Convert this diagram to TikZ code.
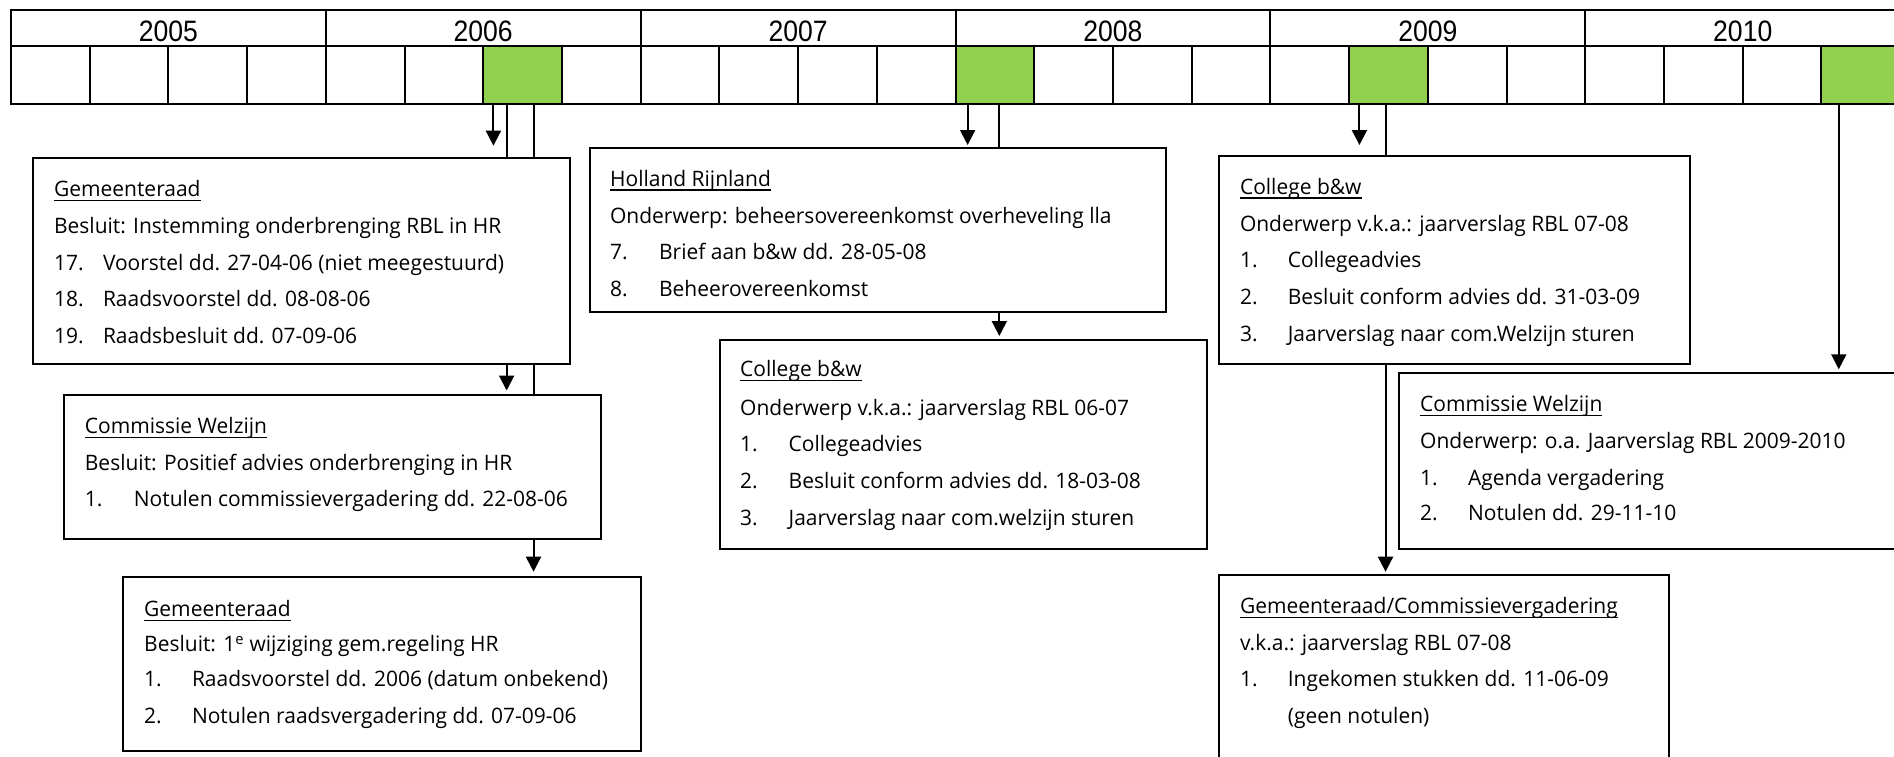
\documentclass[tikz,border=0pt]{standalone}
\usepackage{fontspec}
\setmainfont{Open Sans}[FakeStretch=0.985]
\newfontfamily\yearfont{Liberation Sans}[FakeStretch=0.9]
\usetikzlibrary{arrows.meta,calc}
\definecolor{tlgreen}{HTML}{92D050}
\newcommand\ulx[1]{\setbox0\hbox{#1}\rlap{\rule[-4.5pt]{\wd0}{1.2pt}}\box0}
\newcommand\dl[4]{\node[txt] (#1) at (#2,#3) {#4};}
\pgfdeclarelayer{bg}
\pgfsetlayers{bg,main}
\begin{document}
\begin{tikzpicture}[x=1pt,y=-1pt,
  cell/.style={draw, line width=2pt, anchor=north west, minimum width=78.72pt, minimum height=57.2pt, inner sep=0pt, outer sep=0pt},
  yearcell/.style={draw, line width=2pt, anchor=north west, minimum width=314.88pt, minimum height=36.6pt, inner sep=0pt, outer sep=0pt},
  yeartxt/.style={anchor=base, inner sep=0pt, font=\yearfont\fontsize{29.5}{32}\selectfont},
  doc/.style={draw, line width=2pt, fill=white, anchor=north west, inner sep=0pt, outer sep=0pt},
  txt/.style={anchor=base west, inner sep=0pt, font=\fontsize{21.3}{25}\selectfont},
  conn/.style={line width=2pt, -{Triangle[width=15pt,length=15pt]}},
]
\useasboundingbox (0,0) rectangle (1894,756);
% timeline
\foreach \y [count=\k from 0] in {2005,2006,2007,2008,2009,2010}{
  \node[yearcell] (y\y) at ({10.9+314.88*\k},9.7) {};
  \node[yeartxt] (yt\y) at ($(y\y.south)+(0,-4.6)$) {\y};
}
\foreach \i in {0,...,23}{
  \def\fc{white}
  \ifnum\i=6 \def\fc{tlgreen}\fi
  \ifnum\i=12 \def\fc{tlgreen}\fi
  \ifnum\i=17 \def\fc{tlgreen}\fi
  \ifnum\i=23 \def\fc{tlgreen}\fi
  \node[cell, fill=\fc] (c\i) at ({10.9+78.72*\i},46.3) {};
}
% boxes
\node[doc, minimum width=536.8pt, minimum height=206pt] (b1) at (33.2,158.3) {};
\node[doc, minimum width=536.6pt, minimum height=144.3pt] (b2) at (64,395) {};
\node[doc, minimum width=517.8pt, minimum height=174pt] (b3) at (123,576.7) {};
\node[doc, minimum width=576.3pt, minimum height=164pt] (hr) at (589.5,147.7) {};
\node[doc, minimum width=487pt, minimum height=209.3pt] (c67) at (720,340) {};
\node[doc, minimum width=471pt, minimum height=208.3pt] (c78) at (1218.6,156) {};
\node[doc, minimum width=520pt, minimum height=176.6pt] (cw10) at (1399.2,372.7) {};
\node[doc, minimum width=450.6pt, minimum height=215pt] (gc) at (1218.6,575) {};
% connectors
\coordinate (p1) at ($(c6.south west)+(10.2,0)$);
\coordinate (p2) at ($(c6.south west)+(23.4,0)$);
\coordinate (p3) at ($(c6.south west)+(50.3,0)$);
\coordinate (p4) at ($(c12.south west)+(12.1,0)$);
\coordinate (p5) at ($(c12.south west)+(43.8,0)$);
\coordinate (p6) at ($(c17.south west)+(10.3,0)$);
\coordinate (p7) at ($(c17.south west)+(36.4,0)$);
\coordinate (p8) at ($(c23.south west)+(17.3,0)$);
\begin{pgfonlayer}{bg}
\draw[conn, shorten >=12.6pt] (p1) -- (p1 |- b1.north);
\draw[conn, shorten >=4.5pt] (p2) -- (p2 |- b2.north);
\draw[conn, shorten >=5pt] (p3) -- (p3 |- b3.north);
\draw[conn, shorten >=2.7pt] (p4) -- (p4 |- hr.north);
\draw[conn, shorten >=4pt] (p5) -- (p5 |- c67.north);
\draw[conn, shorten >=11pt] (p6) -- (p6 |- c78.north);
\draw[conn, shorten >=3.3pt] (p7) -- (p7 |- gc.north);
\draw[conn, shorten >=3.4pt] (p8) -- (p8 |- cw10.north);
\end{pgfonlayer}
% box 1
\dl{b1h}{53.9}{196.7}{\ulx{Gemeenteraad}}
\dl{b1s}{53.9}{233.3}{Besluit: Instemming onderbrenging RBL in HR}
\dl{b1n1}{53.9}{270}{17.}\dl{b1i1}{102.8}{270}{Voorstel dd. 27-04-06 (niet meegestuurd)}
\dl{b1n2}{53.9}{306.7}{18.}\dl{b1i2}{102.8}{306.7}{Raadsvoorstel dd. 08-08-06}
\dl{b1n3}{53.9}{343.3}{19.}\dl{b1i3}{102.8}{343.3}{Raadsbesluit dd. 07-09-06}
% box 2
\dl{b2h}{84.7}{433.3}{\ulx{Commissie Welzijn}}
\dl{b2s}{84.7}{470}{Besluit: Positief advies onderbrenging in HR}
\dl{b2n1}{84.7}{506.7}{1.}\dl{b2i1}{133.7}{506.7}{Notulen commissievergadering dd. 22-08-06}
% box 3
\dl{b3h}{144}{616.7}{\ulx{Gemeenteraad}}
\dl{b3s}{144}{651.7}{Besluit: 1\textsuperscript{e} wijziging gem.regeling HR}
\dl{b3n1}{144}{686.7}{1.}\dl{b3i1}{191.8}{686.7}{Raadsvoorstel dd. 2006 (datum onbekend)}
\dl{b3n2}{144}{723.3}{2.}\dl{b3i2}{191.8}{723.3}{Notulen raadsvergadering dd. 07-09-06}
% Holland Rijnland
\dl{hrh}{609.9}{186}{\ulx{Holland Rijnland}}
\dl{hrs}{609.9}{223.3}{Onderwerp: beheersovereenkomst overheveling lla}
\dl{hrn1}{609.9}{259.3}{7.}\dl{hri1}{658.9}{259.3}{Brief aan b\&w dd. 28-05-08}
\dl{hrn2}{609.9}{296.7}{8.}\dl{hri2}{658.9}{296.7}{Beheerovereenkomst}
% College 06-07
\dl{c67h}{740}{376.7}{\ulx{College b\&w}}
\dl{c67s}{740}{415}{Onderwerp v.k.a.: jaarverslag RBL 06-07}
\dl{c67n1}{740}{451.7}{1.}\dl{c67i1}{788.5}{451.7}{Collegeadvies}
\dl{c67n2}{740}{488.3}{2.}\dl{c67i2}{788.5}{488.3}{Besluit conform advies dd. 18-03-08}
\dl{c67n3}{740}{525}{3.}\dl{c67i3}{788.5}{525}{Jaarverslag naar com.welzijn sturen}
% College 07-08
\dl{c78h}{1239.8}{194}{\ulx{College b\&w}}
\dl{c78s}{1239.8}{231}{Onderwerp v.k.a.: jaarverslag RBL 07-08}
\dl{c78n1}{1239.8}{267.7}{1.}\dl{c78i1}{1287.6}{267.7}{Collegeadvies}
\dl{c78n2}{1239.8}{304.3}{2.}\dl{c78i2}{1287.6}{304.3}{Besluit conform advies dd. 31-03-09}
\dl{c78n3}{1239.8}{341.7}{3.}\dl{c78i3}{1287.6}{341.7}{Jaarverslag naar com.Welzijn sturen}
% Commissie Welzijn 2010
\dl{cwh}{1420}{411.7}{\ulx{Commissie Welzijn}}
\dl{cws}{1420}{448.3}{Onderwerp: o.a. Jaarverslag RBL 2009-2010}
\dl{cwn1}{1420}{485}{1.}\dl{cwi1}{1467.8}{485}{Agenda vergadering}
\dl{cwn2}{1420}{520.7}{2.}\dl{cwi2}{1467.8}{520.7}{Notulen dd. 29-11-10}
% Gemeenteraad/Commissievergadering
\dl{gch}{1239.8}{613.3}{\ulx{Gemeenteraad/Commissievergadering}}
\dl{gcs}{1239.8}{650}{v.k.a.: jaarverslag RBL 07-08}
\dl{gcn1}{1239.8}{686.7}{1.}\dl{gci1}{1287.6}{686.7}{Ingekomen stukken dd. 11-06-09}
\dl{gci2}{1287.6}{723.3}{(geen notulen)}
\end{tikzpicture}
\end{document}
